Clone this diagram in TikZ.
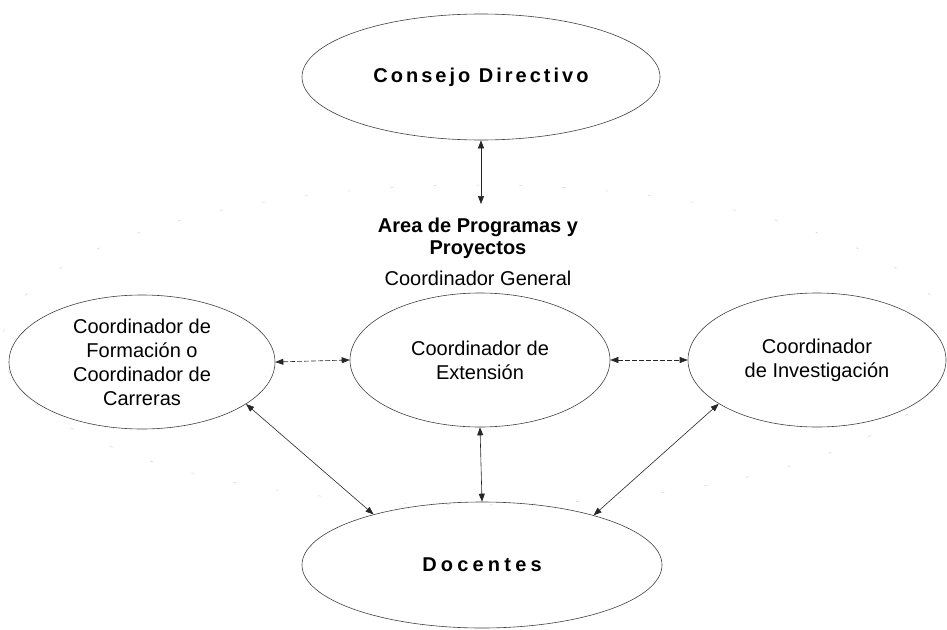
\documentclass[tikz,border=0pt]{standalone}
\usepackage{fontspec}
\setmainfont{Liberation Sans}
\newfontfamily\spacedA[LetterSpace=15]{Liberation Sans}
\newfontfamily\spacedB[LetterSpace=21]{Liberation Sans}
\usetikzlibrary{shapes.geometric,arrows.meta}
\begin{document}
\begin{tikzpicture}[x=1pt,y=-1pt,
  oval/.style={ellipse,draw=black!75,line width=0.6pt,inner sep=0pt,align=center,
    font=\fontsize{20}{24}\selectfont},
  link/.style={draw=black!85,line width=0.6pt,
    {Triangle[length=8pt,width=6pt]}-{Triangle[length=8pt,width=6pt]}},
  hlink/.style={link,dash pattern=on 5pt off 2pt},
  lbl/.style={align=center,inner sep=0pt}
]
\useasboundingbox (0,0) rectangle (947,629);
% faint enclosing ellipse of the Area
\draw[gray!35,line width=0.5pt,dash pattern=on 3pt off 40pt] (478,345) ellipse [x radius=476, y radius=160];

\node[oval,minimum width=358pt,minimum height=126pt] (cd) at (481,77)
  {\spacedA\bfseries Consejo Directivo};
\node[lbl,font=\fontsize{20}{22}\selectfont\bfseries] (area) at (478,238)
  {Area de Programas y\\Proyectos};
\node[lbl,font=\fontsize{20}{24}\selectfont] (cg) at (478,278) {Coordinador General};
\coordinate (tip) at (481,204);

\node[oval,minimum width=266pt,minimum height=134pt] (form) at (142,362)
  {Coordinador de\\Formación o\\Coordinador de\\Carreras};
\node[oval,minimum width=260pt,minimum height=134pt] (ext) at (480,360)
  {Coordinador de\\Extensión};
\node[oval,minimum width=258pt,minimum height=134pt] (inv) at (817,360)
  {Coordinador\\de Investigación};
\node[oval,minimum width=360pt,minimum height=126pt] (doc) at (482,565)
  {\spacedB\bfseries Docentes};

\draw[link] (cd.south) -- (tip);
\draw[hlink] (form.east) -- (ext.west);
\draw[hlink] (ext.east) -- (inv.west);
\draw[link] (ext.south) -- (doc.north);
\draw[link] (form.-22) -- (doc.155);
\draw[link] (inv.-156) -- (doc.24);
\end{tikzpicture}
\end{document}
